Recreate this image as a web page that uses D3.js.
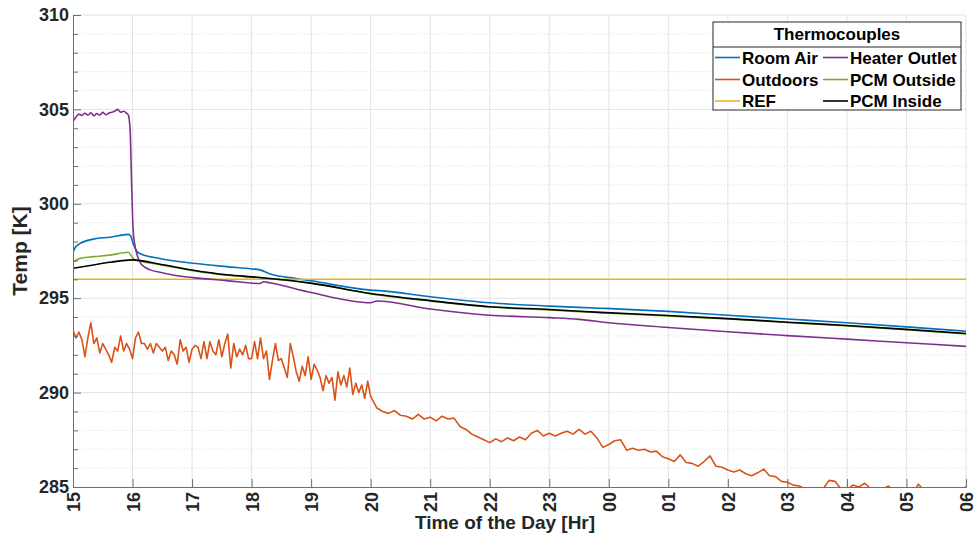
<!DOCTYPE html>
<html>
<head>
<meta charset="utf-8">
<script src="https://cdn.jsdelivr.net/npm/d3@7"></script>
<style>
  body { margin: 0; background: #fff; }
  svg { display: block; font-family: Arial, "Liberation Sans", sans-serif; }
</style>
</head>
<body>
<svg id="chart" width="976" height="535"></svg>
<script>
// hours are counted from 15:00 of the first day (so 24 = 00, 30 = 06)
const hourTicks = d3.range(15, 31);

// Outdoors: fine samples 15:00-20:00 every 0.05 h, then every 0.1 h to 06:00
const outdoorsFineStart = 15, outdoorsFineStep = 0.05;
const outdoorsFine = [
  293.3, 292.9, 293.2, 292.8, 291.9, 292.9, 293.7, 292.6, 292.9, 292.1,
  292.6, 292.3, 292.0, 291.6, 292.4, 292.2, 293.0, 292.2, 292.6, 292.3,
  291.8, 292.9, 293.2, 292.6, 292.6, 292.3, 292.6, 292.1, 292.6, 292.4,
  292.2, 292.4, 291.7, 292.2, 292.0, 291.5, 292.8, 292.2, 292.4, 291.6,
  292.3, 292.5, 292.4, 291.8, 292.7, 291.8, 292.7, 292.2, 292.0, 292.8,
  291.9, 292.6, 293.1, 291.3, 292.6, 291.9, 292.3, 292.0, 292.5, 291.8,
  291.8, 292.7, 291.8, 292.9, 291.8, 292.2, 290.7, 291.7, 292.6, 291.7,
  291.8, 291.3, 290.8, 292.6, 291.9, 291.1, 290.6, 291.4, 290.9, 291.9,
  290.7, 291.5, 291.2, 290.8, 290.1, 290.9, 290.5, 290.8, 289.6, 291.1,
  290.4, 290.9, 290.3, 291.3, 289.9, 290.5, 290.0, 290.4, 289.7, 290.6,
  289.8
];
const outdoorsCoarseStart = 20.1, outdoorsCoarseStep = 0.1;
const outdoorsCoarse = [
  289.2, 289.0, 288.9, 289.05, 288.8, 288.75, 288.6, 288.85, 288.6, 288.7,
  288.5, 288.75, 288.6, 288.65, 288.2, 288.05, 287.8, 287.65, 287.5, 287.35,
  287.55, 287.4, 287.6, 287.45, 287.65, 287.5, 287.85, 288.0, 287.7, 287.85,
  287.7, 287.85, 287.95, 287.8, 288.05, 287.8, 287.95, 287.6, 287.1, 287.25,
  287.45, 287.5, 286.95, 287.05, 286.95, 287.0, 286.85, 286.9, 286.6, 286.5,
  286.35, 286.7, 286.3, 286.25, 286.1, 286.35, 286.65, 286.1, 286.05, 285.9,
  285.8, 285.9, 285.7, 285.6, 285.75, 285.95, 285.6, 285.55, 285.3, 285.25,
  285.1, 285.05, 284.9, 284.95, 284.8, 284.9, 285.35, 285.3, 284.9, 284.85,
  285.1, 285.0, 285.2, 284.9, 284.8, 284.9, 285.05, 284.7, 284.8, 284.95,
  284.6, 285.15, 284.8, 284.7, 284.6, 284.75, 284.6, 284.7, 284.8, 285.02
];

const roomAirHours = [15, 15.04, 15.12, 15.34, 15.62, 15.93, 15.97, 16.01, 16.06, 16.12,
  16.46, 17.02, 17.58, 18.0, 18.14, 18.3, 18.73, 19.0, 20.0, 20.15, 21, 22, 23, 23.86,
  25, 26, 27, 28, 29, 30];
const roomAir = [297.43, 297.7, 297.9, 298.13, 298.23, 298.38, 298.3, 297.9, 297.55, 297.37,
  297.1, 296.85, 296.67, 296.55, 296.5, 296.3, 296.05, 295.92, 295.43, 295.4, 295.08, 294.76,
  294.58, 294.47, 294.3, 294.1, 293.9, 293.7, 293.48, 293.25];

const heaterHours = [15, 15.05, 15.1, 15.15, 15.2, 15.25, 15.3, 15.35, 15.4, 15.45, 15.5,
  15.55, 15.6, 15.65, 15.7, 15.75, 15.8, 15.85, 15.9, 15.93, 15.96, 15.98, 16.01, 16.04,
  16.07, 16.12, 16.2, 16.3, 16.46, 16.7, 17.02, 17.58, 18.14, 18.2, 18.3, 19.0, 20.0, 20.1,
  21, 22, 23, 23.5, 24, 25, 26, 27, 28, 29, 30];
const heater = [304.35, 304.6, 304.75, 304.68, 304.8, 304.7, 304.82, 304.66, 304.78, 304.7,
  304.84, 304.72, 304.8, 304.85, 304.9, 305.0, 304.85, 304.9, 304.8, 304.7, 303.9, 301.6,
  298.6, 297.8, 297.37, 296.93, 296.66, 296.5, 296.37, 296.22, 296.09, 295.93, 295.78, 295.87,
  295.82, 295.3, 294.76, 294.85, 294.43, 294.1, 293.97, 293.88, 293.7, 293.45, 293.22, 293.02,
  292.83, 292.64, 292.45];

const pcmOutsideHours = [15, 15.11, 15.34, 15.62, 15.93, 15.99, 16.04, 16.15, 16.46, 17.02,
  17.58, 18.14, 19, 20, 21, 22, 23, 23.86, 25, 26, 27, 28, 29, 30];
const pcmOutside = [296.9, 297.1, 297.2, 297.28, 297.43, 297.2, 297.02, 296.95, 296.78, 296.46,
  296.22, 296.08, 295.78, 295.23, 294.85, 294.53, 294.38, 294.23, 294.06, 293.9, 293.71,
  293.53, 293.33, 293.11];

const pcmInsideHours = [15, 15.34, 15.62, 16.0, 16.46, 17.02, 17.58, 18.14, 19, 20, 21, 22,
  23, 23.86, 25, 26, 27, 28, 29, 30];
const pcmInside = [296.58, 296.76, 296.9, 297.03, 296.8, 296.48, 296.24, 296.1, 295.8, 295.25,
  294.87, 294.55, 294.4, 294.25, 294.08, 293.92, 293.73, 293.55, 293.35, 293.13];

const refHours = [15, 30];
const ref = [296, 296];

const legendNames = ["Room Air", "Outdoors", "REF", "Heater Outlet", "PCM Outside", "PCM Inside"];
const seriesColors = ["#0072BD", "#D95319", "#EDB120", "#7E2F8E", "#77AC30", "#000000"];

const outdoorsHours = outdoorsFine.map((v, i) => outdoorsFineStart + i * outdoorsFineStep)
  .concat(outdoorsCoarse.map((v, i) => outdoorsCoarseStart + i * outdoorsCoarseStep));
const outdoors = outdoorsFine.concat(outdoorsCoarse);

const series = [
  { hours: roomAirHours, values: roomAir, smooth: true },
  { hours: outdoorsHours, values: outdoors, smooth: false },
  { hours: refHours, values: ref, smooth: false },
  { hours: heaterHours, values: heater, smooth: true },
  { hours: pcmOutsideHours, values: pcmOutside, smooth: true },
  { hours: pcmInsideHours, values: pcmInside, smooth: true }
];

const plotLeft = 73, plotRight = 966, plotTop = 15, plotBottom = 487;
const x = d3.scaleLinear().domain([15, 30]).range([plotLeft, plotRight]);
const y = d3.scaleLinear().domain([285, 310]).range([plotBottom, plotTop]);

const svg = d3.select("#chart");
const ink = "#262626";

// grid
const grid = svg.append("g");
grid.append("g").selectAll("line")
  .data(d3.range(285, 311).filter(d => d % 5 !== 0))
  .join("line")
  .attr("x1", plotLeft).attr("x2", plotRight)
  .attr("y1", d => y(d)).attr("y2", d => y(d))
  .attr("stroke", "#cfcfcf").attr("stroke-width", 0.8)
  .attr("stroke-dasharray", "1,2");
grid.append("g").selectAll("line")
  .data(d3.range(290, 311, 5))
  .join("line")
  .attr("x1", plotLeft).attr("x2", plotRight)
  .attr("y1", d => y(d)).attr("y2", d => y(d))
  .attr("stroke", "#e3e3e3");
grid.append("g").selectAll("line")
  .data(hourTicks.slice(1))
  .join("line")
  .attr("x1", d => x(d)).attr("x2", d => x(d))
  .attr("y1", plotTop).attr("y2", plotBottom)
  .attr("stroke", "#e3e3e3");

// lines
svg.append("clipPath").attr("id", "plot")
  .append("rect").attr("x", plotLeft).attr("y", plotTop)
  .attr("width", plotRight - plotLeft).attr("height", plotBottom - plotTop);

const lines = svg.append("g").attr("clip-path", "url(#plot)");
series.forEach((s, i) => {
  const pts = s.hours.map((h, j) => [h, s.values[j]]);
  const line = d3.line()
    .x(d => x(d[0])).y(d => y(d[1]))
    .curve(s.smooth ? d3.curveMonotoneX : d3.curveLinear);
  lines.append("path")
    .datum(pts)
    .attr("d", line)
    .attr("fill", "none")
    .attr("stroke", seriesColors[i])
    .attr("stroke-width", 1.6)
    .attr("stroke-linejoin", "round");
});

// axes
const yAxis = svg.append("g")
  .attr("transform", `translate(${plotLeft},0)`)
  .call(d3.axisLeft(y).tickValues(d3.range(285, 311, 5)).tickSize(-8).tickPadding(4));
const yMinor = svg.append("g")
  .attr("transform", `translate(${plotLeft},0)`)
  .call(d3.axisLeft(y).tickValues(d3.range(285, 311).filter(d => d % 5 !== 0))
    .tickSize(-5).tickFormat(""));
yMinor.select(".domain").remove();
yMinor.selectAll(".tick line").attr("stroke", "#6e6e6e");

const xAxis = svg.append("g")
  .attr("transform", `translate(0,${plotBottom})`)
  .call(d3.axisBottom(x).tickValues(hourTicks).tickSize(-8)
    .tickFormat(d => String(d % 24).padStart(2, "0")));
xAxis.selectAll("text")
  .attr("transform", "rotate(-90)")
  .attr("x", -5).attr("y", 0).attr("dy", "0.36em")
  .attr("text-anchor", "end");

[yAxis, xAxis].forEach(g => {
  g.selectAll(".domain, .tick line").attr("stroke", "#6e6e6e");
  g.selectAll("text").attr("fill", ink)
    .style("font-size", "18px").style("font-weight", "bold");
});

svg.append("text")
  .attr("transform", `translate(27,${(plotTop + plotBottom) / 2}) rotate(-90)`)
  .attr("text-anchor", "middle")
  .attr("fill", ink)
  .style("font-size", "21px").style("font-weight", "bold")
  .text("Temp [K]");

svg.append("text")
  .attr("x", 505).attr("y", 529)
  .attr("text-anchor", "middle")
  .attr("fill", ink)
  .style("font-size", "19px").style("font-weight", "bold")
  .text("Time of the Day [Hr]");

// legend
const lg = svg.append("g");
lg.append("rect")
  .attr("x", 713).attr("y", 22).attr("width", 248).attr("height", 88)
  .attr("fill", "#fff").attr("stroke", ink).attr("stroke-width", 1);
lg.append("text")
  .attr("x", 837).attr("y", 40)
  .attr("text-anchor", "middle").attr("fill", "#000")
  .style("font-size", "17px").style("font-weight", "bold")
  .text("Thermocouples");
lg.append("line")
  .attr("x1", 713).attr("x2", 961).attr("y1", 47).attr("y2", 47)
  .attr("stroke", ink).attr("stroke-width", 1);

const rowsY = [57.5, 79.5, 101];
legendNames.forEach((name, i) => {
  const col = Math.floor(i / 3), row = i % 3;
  const lx = col === 0 ? 715 : 823;
  const item = lg.append("g").attr("transform", `translate(${lx},${rowsY[row]})`);
  item.append("line")
    .attr("x1", 0).attr("x2", 25).attr("y1", 0).attr("y2", 0)
    .attr("stroke", seriesColors[i]).attr("stroke-width", 1.6);
  item.append("text")
    .attr("x", 27).attr("dy", "0.36em")
    .attr("fill", "#000")
    .style("font-size", "17px").style("font-weight", "bold")
    .text(name);
});
</script>
</body>
</html>
